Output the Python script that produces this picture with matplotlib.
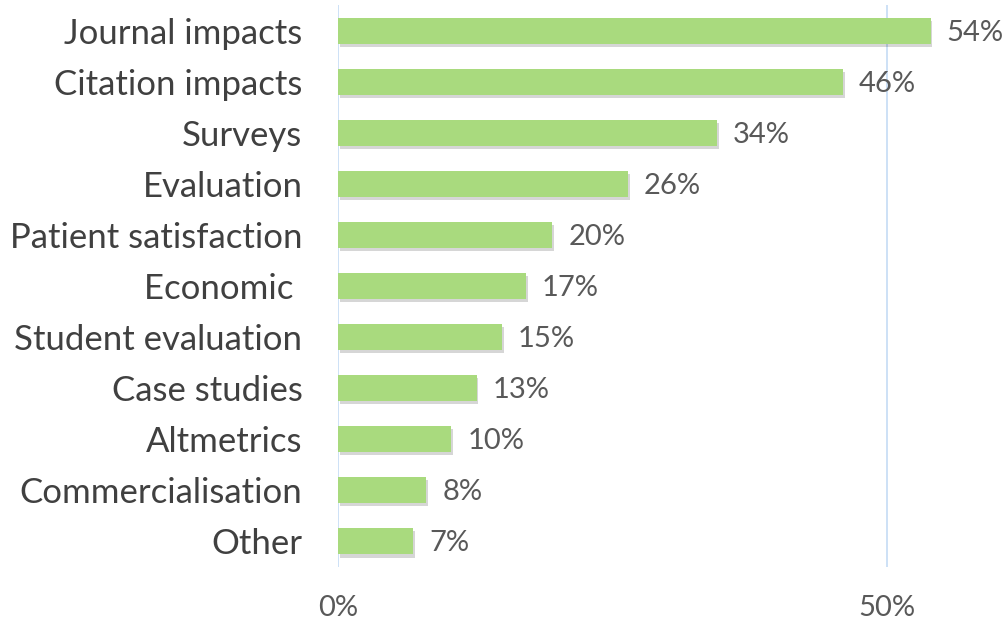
import matplotlib
matplotlib.use("Agg")
import matplotlib.pyplot as plt
import matplotlib.patheffects as pe
from matplotlib.ticker import FuncFormatter

categories = ["Journal impacts", "Citation impacts", "Surveys", "Evaluation",
              "Patient satisfaction", "Economic ", "Student evaluation",
              "Case studies", "Altmetrics", "Commercialisation", "Other"]
values = [0.54, 0.46, 0.345, 0.264, 0.195, 0.171, 0.149, 0.126, 0.103, 0.080, 0.068]
value_labels = ["54%", "46%", "34%", "26%", "20%", "17%", "15%", "13%", "10%", "8%", "7%"]
x_ticks = [0.0, 0.5]

plt.rcParams['font.family'] = ['Lato', 'DejaVu Sans']

fig = plt.figure(figsize=(10.03, 6.22), dpi=100)
ax = fig.add_axes([338.5/1003, 1-567/622, (996.5-338.5)/1003, (567-5)/622])

y = list(range(len(categories)))
bars = ax.barh(y, values, height=0.51, color="#A9DA7E", zorder=3)
for b in bars:
    b.set_path_effects([pe.SimplePatchShadow(offset=(1.2, -2.2), shadow_rgbFace="#000000", alpha=0.16), pe.Normal()])

for yi, v, lab in zip(y, values, value_labels):
    ax.text(v + 0.0145, yi + 0.04, lab, va="center", ha="left", fontsize=21, color="#595959")

ax.set_ylim(len(categories) - 0.5, -0.5)
ax.set_xlim(0, 0.6)
ax.set_yticks(y)
ax.set_yticklabels(categories, fontsize=25, color="#404040")
ax.set_xticks(x_ticks)
ax.xaxis.set_major_formatter(FuncFormatter(lambda v, p: f"{v*100:.0f}%"))
ax.tick_params(axis="x", labelsize=21, labelcolor="#595959", length=0, pad=20)
ax.tick_params(axis="y", length=0, pad=26)
ax.grid(axis="x", color="#C5DCF5", linewidth=1.2, zorder=0)
for s in ax.spines.values():
    s.set_visible(False)

fig.savefig("out.png", dpi=100)
